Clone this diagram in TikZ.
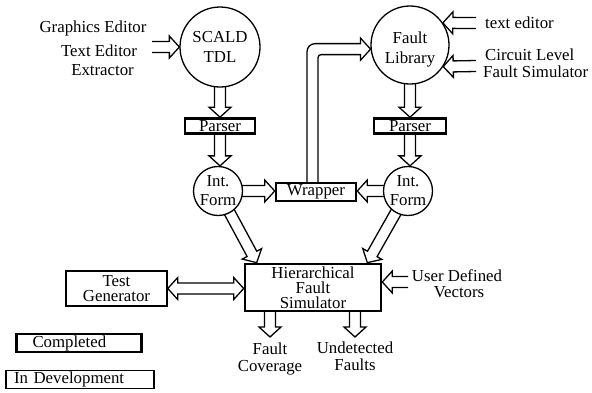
\documentclass[tikz,border=0pt]{standalone}
\usepackage{fontspec}
\setmainfont{Liberation Serif}
\usetikzlibrary{calc,backgrounds}
\tikzset{
  every node/.style={font=\fontsize{16.8}{19}\selectfont, inner sep=0pt},
  circ/.style={circle, draw, line width=1.3pt, fill=white, align=center},
  donebox/.style={rectangle, draw, line width=2.6pt, fill=white, align=center},
  devbox/.style={rectangle, draw, line width=1.5pt, fill=white, align=center},
  hollowline/.style={draw, line width=1.3pt, fill=white, line join=miter},
  hollow/.style={hollowline, to path={
    let \p1=(\tikztostart), \p2=(\tikztotarget),
        \n1={atan2(\y2-\y1,\x2-\x1)}, \n2={veclen(\x2-\x1,\y2-\y1)} in
    {[shift={(\p1)}, rotate=\n1]
     (0pt,-5.5pt) -- ({\n2*1pt-10pt},-5.5pt) -- ({\n2*1pt-10pt},-11pt)
     -- ({\n2*1pt},0pt) -- ({\n2*1pt-10pt},11pt) -- ({\n2*1pt-10pt},5.5pt) -- (0pt,5.5pt)}
  }},
  hollowboth/.style={hollowline, to path={
    let \p1=(\tikztostart), \p2=(\tikztotarget),
        \n1={atan2(\y2-\y1,\x2-\x1)}, \n2={veclen(\x2-\x1,\y2-\y1)} in
    {[shift={(\p1)}, rotate=\n1]
     (0pt,0pt) -- (10pt,11pt) -- (10pt,5.5pt) -- ({\n2*1pt-10pt},5.5pt) -- ({\n2*1pt-10pt},11pt)
     -- ({\n2*1pt},0pt) -- ({\n2*1pt-10pt},-11pt) -- ({\n2*1pt-10pt},-5.5pt) -- (10pt,-5.5pt)
     -- (10pt,-11pt) -- cycle}
  }},
}
\begin{document}
\begin{tikzpicture}[x=1pt,y=-1pt]
\useasboundingbox (0,0) rectangle (592,392);

% main nodes
\node[circ, minimum size=80pt, font=\fontsize{16.8}{20}\selectfont] (scald) at (220,47) {SCALD\\TDL};
\node[circ, minimum size=78pt,
      label={[font=\fontsize{16.8}{20}\selectfont, align=center, yshift=-4pt]center:Fault\\Library}] (lib) at (410,45) {};
\node[donebox, minimum width=70pt, minimum height=15pt] (p1) at (220,126) {Parser};
\node[donebox, minimum width=72pt, minimum height=15pt] (p2) at (410,126) {Parser};
\node[circ, minimum size=49pt] (i1) at (218,191) {Int.\\Form};
\node[circ, minimum size=49pt] (i2) at (408,191) {Int.\\Form};
\node[donebox, minimum width=80pt, minimum height=18pt] (wrap) at (316,192) {Wrapper};
\node[donebox, minimum width=136pt, minimum height=47pt, font=\fontsize{16.8}{15.2}\selectfont] (sim) at (313,287.5) {Hierarchical\\Fault\\Simulator};
\node[devbox, minimum width=101pt, minimum height=35pt, font=\fontsize{16.8}{15.5}\selectfont] (tg) at (116.5,288.5) {Test\\Generator};

% legend
\node[donebox, minimum height=18pt, text width=93pt, align=left, inner xsep=16pt] (comp) at (79,343) {Completed};
\node[devbox, minimum height=18pt, text width=132pt, align=left, inner xsep=8pt] (dev) at (80,379.5) {In Development};

% text labels
\node[anchor=base] (ge) at (93,32) {Graphics Editor};
\node[anchor=base] (te) at (99,56) {Text Editor};
\node[anchor=base] (ex) at (102.5,75) {Extractor};
\node[anchor=base west] (ted) at (485,28) {text editor};
\node[anchor=base west] (cl) at (485,60) {Circuit Level};
\node[anchor=base west] (fs) at (483,77) {Fault Simulator};
\node[anchor=base] (ud) at (457,281) {User Defined};
\node[anchor=base] (vec) at (459,297) {Vectors};
\node[anchor=north, align=center, font=\fontsize{16.8}{16.5}\selectfont] (fc) at (270,343) {Fault\\Coverage};
\node[anchor=north, align=center, font=\fontsize{16.8}{16.5}\selectfont] (uf) at (355,342) {Undetected\\Faults};

% free ends of input arrows
\coordinate (inL) at (152,47);
\coordinate (inT) at (476,23);
\coordinate (inC) at (476,66);
\coordinate (inU) at (408,282);

\begin{scope}[on background layer]
\draw[hollow] (inL) to (scald.west);
\draw[hollow] (inT) to (lib.34);
\draw[hollow] (inC) to (lib.-33);
\draw[hollow] (scald) to (scald.south |- p1.north);
\draw[hollow] (p1) to (p1.south |- i1.north);
\draw[hollow] (lib) to (lib.south |- p2.north);
\draw[hollow] (p2) to (p2.south |- i2.north);
\draw[hollow] (i1) to (i1.east -| wrap.west);
\draw[hollow] (i2) to (i2.west -| wrap.east);
\draw[hollow] (i1) to ($(sim.north west)+(13,0)$);
\draw[hollow] (i2) to ($(sim.north east)+(-15,0)$);
\draw[hollow] (inU) to (inU -| sim.east);
\draw[hollowboth] (tg.east) to (tg.east -| sim.west);
\draw[hollow] (sim.center -| fc.north) to ($(fc.north)+(0,-6)$);
\draw[hollow] (sim.center -| uf.north) to ($(uf.north)+(0,-5)$);
% bent arrow from Wrapper to Fault Library
\draw[hollowline] let \p1=($(wrap.center)+(-3.5,0)$), \p2=(lib.186) in
  ({\x1-5.5pt},\y1) -- ({\x1-5.5pt},{\y2+5.5pt-8pt})
  arc[start angle=180, end angle=90, radius=8pt]
  -- ({\x2-10pt},{\y2+5.5pt}) -- ({\x2-10pt},{\y2+11pt}) -- (\p2)
  -- ({\x2-10pt},{\y2-11pt}) -- ({\x2-10pt},{\y2-5.5pt})
  -- ({\x1+5.5pt+3pt},{\y2-5.5pt})
  arc[start angle=90, end angle=180, radius=3pt]
  -- ({\x1+5.5pt},\y1);
\end{scope}
\end{tikzpicture}
\end{document}
